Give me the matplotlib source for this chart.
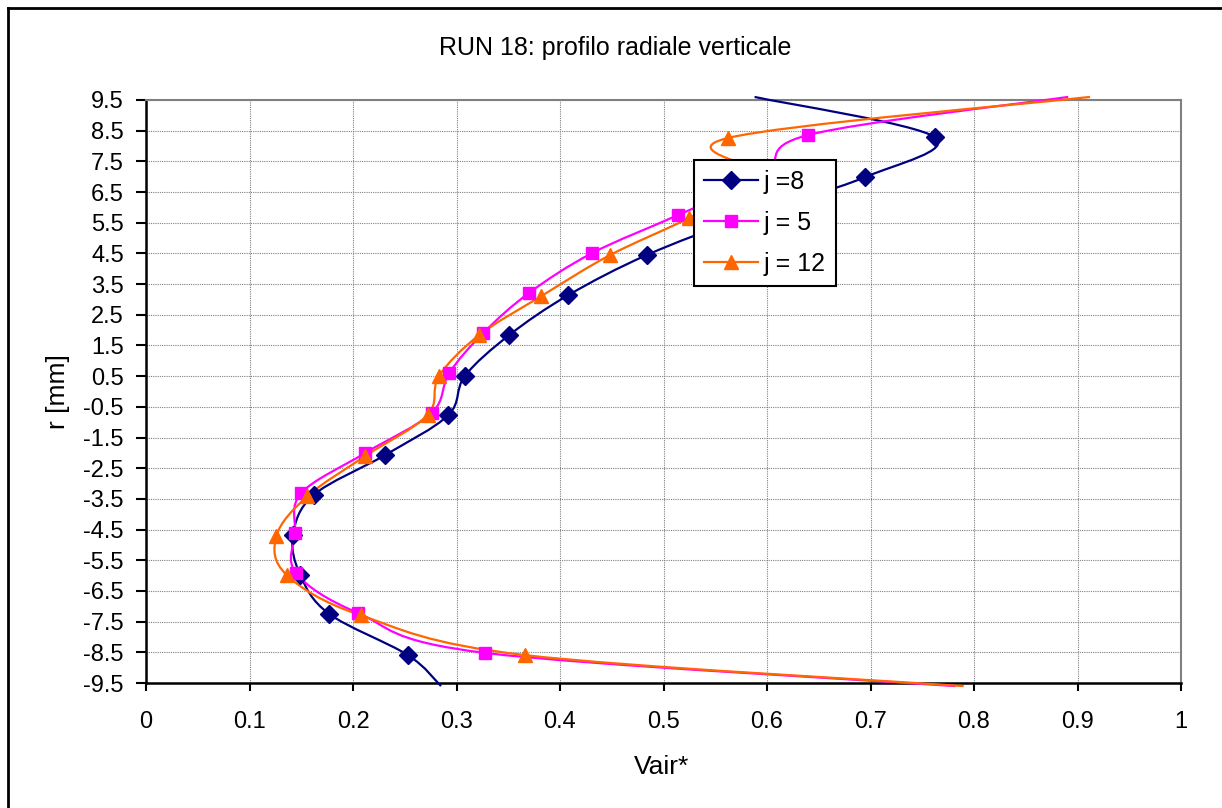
import numpy as np
import matplotlib
matplotlib.use("Agg")
import matplotlib.pyplot as plt
from matplotlib.path import Path
from matplotlib.patches import PathPatch
from matplotlib.lines import Line2D

plt.rcParams['font.family'] = ['Liberation Sans', 'DejaVu Sans']

# data (first/last point = line ends outside the plot, no marker)
r_j8 = [9.6, 8.29, 6.99, 5.7, 4.45, 3.14, 1.84, 0.50, -0.77, -2.07, -3.37, -4.68, -5.98, -7.25, -8.59, -9.6]
v_j8 = [0.588, 0.762, 0.695, 0.58, 0.484, 0.408, 0.351, 0.308, 0.292, 0.231, 0.162, 0.142, 0.149, 0.177, 0.253, 0.285]

r_j5 = [9.6, 8.36, 7.05, 5.75, 4.51, 3.21, 1.91, 0.60, -0.70, -2.0, -3.31, -4.61, -5.92, -7.22, -8.52, -9.6]
v_j5 = [0.891, 0.640, 0.598, 0.514, 0.431, 0.370, 0.326, 0.293, 0.276, 0.212, 0.150, 0.144, 0.145, 0.205, 0.328, 0.782]

r_j12 = [9.6, 8.26, 6.96, 5.66, 4.44, 3.11, 1.84, 0.50, -0.77, -2.1, -3.41, -4.71, -5.98, -7.3, -8.59, -9.6]
v_j12 = [0.912, 0.562, 0.595, 0.525, 0.448, 0.382, 0.322, 0.283, 0.272, 0.212, 0.156, 0.126, 0.136, 0.208, 0.366, 0.79]

labels = ["j =8", "j = 5", "j = 12"]
colors = ["#000080", "#FF00FF", "#FF6600"]
markers = ["D", "s", "^"]
msizes = [9, 8.5, 10]

y_ticks = np.arange(-9.5, 10, 1.0)
y_ticklabels = ["%.1f" % t for t in y_ticks]
x_ticks = np.arange(0, 1.01, 0.1)
x_ticklabels = ["0", "0.1", "0.2", "0.3", "0.4", "0.5", "0.6", "0.7", "0.8", "0.9", "1"]


def smooth_path(xs, ys):
    # excel-like smoothed line: cubic bezier, catmull-rom control points
    pts = np.column_stack([xs, ys])
    n = len(pts)
    verts = [pts[0]]
    codes = [Path.MOVETO]
    for i in range(n - 1):
        p0 = pts[i - 1] if i > 0 else pts[i]
        p1 = pts[i]
        p2 = pts[i + 1]
        p3 = pts[i + 2] if i + 2 < n else pts[i + 1]
        c1 = p1 + (p2 - p0) / 6.0
        c2 = p2 - (p3 - p1) / 6.0
        verts += [c1, c2, p2]
        codes += [Path.CURVE4] * 3
    return Path(verts, codes)


fig = plt.figure(figsize=(12.22, 8.08), dpi=100)
ax = fig.add_axes([146 / 1222, 1 - 683 / 808, 1035 / 1222, 583 / 808])

series = [(v_j8, r_j8), (v_j5, r_j5), (v_j12, r_j12)]
handles = []
for (xs, ys), c, m, ms, lab in zip(series, colors, markers, msizes, labels):
    patch = PathPatch(smooth_path(xs, ys), fill=False, edgecolor=c, lw=1.6,
                      clip_on=False, zorder=3)
    ax.add_patch(patch)
    ax.plot(xs[1:-1], ys[1:-1], linestyle="none", marker=m, ms=ms,
            color=c, markeredgecolor=c, zorder=4)
    handles.append(Line2D([], [], color=c, lw=1.6, marker=m, ms=ms, label=lab))

ax.set_xlim(0, 1)
ax.set_ylim(-9.5, 9.5)
ax.set_xticks(x_ticks)
ax.set_xticklabels(x_ticklabels, fontsize=17)
ax.set_yticks(y_ticks)
ax.set_yticklabels(y_ticklabels, fontsize=17)
ax.tick_params(axis="x", direction="out", length=6, width=1.5, pad=14)
ax.tick_params(axis="y", direction="out", length=7, width=1.5, pad=9)
ax.grid(True, color="#808080", lw=0.8, linestyle=(0, (1, 1)))
ax.set_axisbelow(True)

for s in ["left", "bottom"]:
    ax.spines[s].set_color("black")
    ax.spines[s].set_linewidth(1.8)
for s in ["top", "right"]:
    ax.spines[s].set_color("#808080")
    ax.spines[s].set_linewidth(1.5)

ax.set_xlabel("Vair*", fontsize=19)
ax.xaxis.set_label_coords(0.4985, -0.123)
ax.set_ylabel("r [mm]", fontsize=19)
ax.yaxis.set_label_coords(-0.073, 0.5)

leg = ax.legend(handles=handles, loc="upper left", bbox_to_anchor=(0.529, 0.897),
                borderaxespad=0, fontsize=18, frameon=True, fancybox=False,
                framealpha=1, handlelength=2.16, labelspacing=0.68,
                borderpad=0.4, handletextpad=0.25)
leg.get_frame().set_edgecolor("black")
leg.get_frame().set_linewidth(1.5)
leg.set_zorder(10)

fig.text(615 / 1222, 1 - 48 / 808, "RUN 18: profilo radiale verticale",
         fontsize=18, ha="center", va="center")

# outer chart border (only top and left are inside the picture)
fig.add_artist(Line2D([8 / 1222, 1], [1 - 8 / 808, 1 - 8 / 808], color="black",
                      lw=2, transform=fig.transFigure))
fig.add_artist(Line2D([8 / 1222, 8 / 1222], [0, 1 - 8 / 808], color="black",
                      lw=2, transform=fig.transFigure))

fig.savefig("out.png", dpi=100)
